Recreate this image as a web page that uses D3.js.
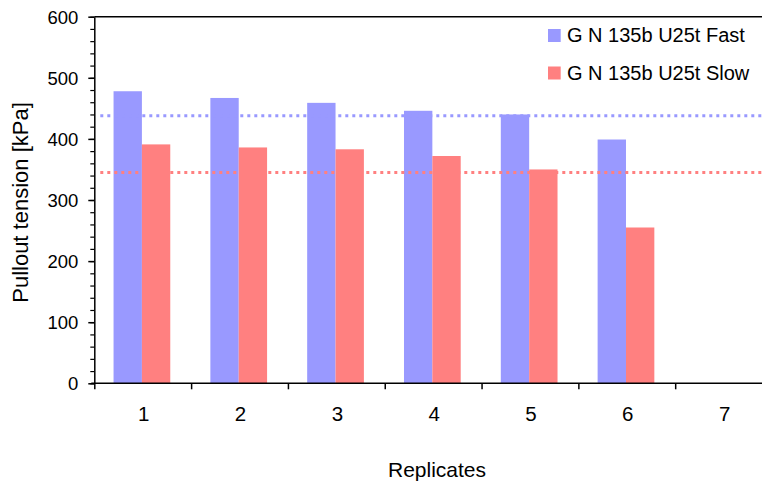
<!DOCTYPE html>
<html>
<head>
<meta charset="utf-8">
<script src="https://cdn.jsdelivr.net/npm/d3@7"></script>
<style>
  html, body { margin: 0; padding: 0; background: #fff; }
  svg { display: block; font-family: "Liberation Sans", Arial, sans-serif; }
</style>
</head>
<body>
<svg id="chart" width="762" height="483"></svg>
<script>
// Replicate numbers along the x axis
const replicates = ["1", "2", "3", "4", "5", "6", "7"];
// Pullout tension per replicate [kPa]
const fastValues = [478, 467, 459, 446, 440, 399, null];
const slowValues = [391, 386, 383, 372, 350, 255, null];
// Reference levels drawn as dotted lines [kPa]
const fastReference = 438;
const slowReference = 345;
// Series names and y tick values
const seriesNames = ["G N 135b U25t Fast", "G N 135b U25t Slow"];
const yMajorTicks = [0, 100, 200, 300, 400, 500, 600];

const colors = ["#9999FF", "#FF8080"];
const series = [fastValues, slowValues];

const svg = d3.select("#chart");
const plotLeft = 94.3, plotRight = 772, plotTop = 16.7, plotBottom = 383.3;

const x = d3.scaleBand().domain(replicates).range([plotLeft, plotRight]).paddingInner(0).paddingOuter(0);
const xSub = d3.scaleBand().domain([0, 1]).range([0, x.bandwidth()]).paddingOuter(0.707).paddingInner(0);
const y = d3.scaleLinear().domain([0, 600]).range([plotBottom, plotTop]);

// Bars
series.forEach((vals, si) => {
  svg.append("g")
    .selectAll("rect")
    .data(vals.map((v, i) => ({ v, c: replicates[i] })).filter(d => d.v != null))
    .join("rect")
    .attr("x", d => x(d.c) + xSub(si) - 0.8)
    .attr("width", xSub.bandwidth())
    .attr("y", d => y(d.v))
    .attr("height", d => y(0) - y(d.v))
    .attr("fill", colors[si]);
});

// Dotted reference lines on top of the bars
[fastReference, slowReference].forEach((v, si) => {
  svg.append("line")
    .attr("x1", plotLeft + 6).attr("x2", plotRight)
    .attr("y1", y(v)).attr("y2", y(v))
    .attr("stroke", colors[si])
    .attr("stroke-width", 3)
    .attr("stroke-dasharray", "3,4");
});

// Top frame line
svg.append("line")
  .attr("x1", plotLeft).attr("x2", plotRight)
  .attr("y1", plotTop).attr("y2", plotTop)
  .attr("stroke", "#000").attr("stroke-width", 1.5);

// Y axis: minor ticks every 20, major ticks every 100
const yMinor = svg.append("g").attr("transform", `translate(${plotLeft},0)`)
  .call(d3.axisLeft(y).tickValues(d3.range(0, 601, 20)).tickSize(4).tickFormat(""));
yMinor.select(".domain").remove();
yMinor.selectAll("line").attr("stroke-width", 1.2);

const yAxis = svg.append("g").attr("transform", `translate(${plotLeft},0)`)
  .call(d3.axisLeft(y).tickValues(yMajorTicks).tickSize(6).tickSizeOuter(0).tickPadding(10));
yAxis.select(".domain").attr("stroke-width", 1.5);
yAxis.selectAll("line").attr("stroke-width", 1.5);
yAxis.selectAll("text").attr("font-size", 18.5).attr("fill", "#000").attr("dy", "0.36em").attr("font-family", null);

// X axis: ticks at category boundaries, labels at category centres
const xEdges = d3.scaleLinear().domain([0, replicates.length]).range([plotLeft, plotRight]);
const xTicks = svg.append("g").attr("transform", `translate(0,${plotBottom})`)
  .call(d3.axisBottom(xEdges).tickValues(d3.range(0, replicates.length + 1)).tickSize(6).tickSizeOuter(0).tickFormat(""));
xTicks.select(".domain").attr("stroke-width", 1.5).attr("d", `M${plotLeft - 3},0H${plotRight}`);
xTicks.selectAll("line").attr("stroke-width", 1.5);

const xLabels = svg.append("g").attr("transform", `translate(0,${plotBottom})`)
  .call(d3.axisBottom(x).tickSize(0).tickPadding(23));
xLabels.select(".domain").remove();
xLabels.selectAll("text").attr("font-size", 20.5).attr("fill", "#000").attr("font-family", null).attr("dx", 1);

// Axis titles
svg.append("text")
  .attr("x", 437).attr("y", 476.5)
  .attr("text-anchor", "middle")
  .attr("font-size", 21)
  .text("Replicates");

svg.append("text")
  .attr("transform", "translate(27.5,202.5) rotate(-90)")
  .attr("text-anchor", "middle")
  .attr("font-size", 22)
  .text("Pullout tension [kPa]");

// Legend
const legend = svg.append("g");
seriesNames.forEach((name, i) => {
  const yy = 29 + i * 37.5;
  legend.append("rect")
    .attr("x", 548).attr("y", yy)
    .attr("width", 12.7).attr("height", 13)
    .attr("fill", colors[i]);
  legend.append("text")
    .attr("x", 567).attr("y", yy + 13.3)
    .attr("font-size", 20)
    .text(name);
});
</script>
</body>
</html>
